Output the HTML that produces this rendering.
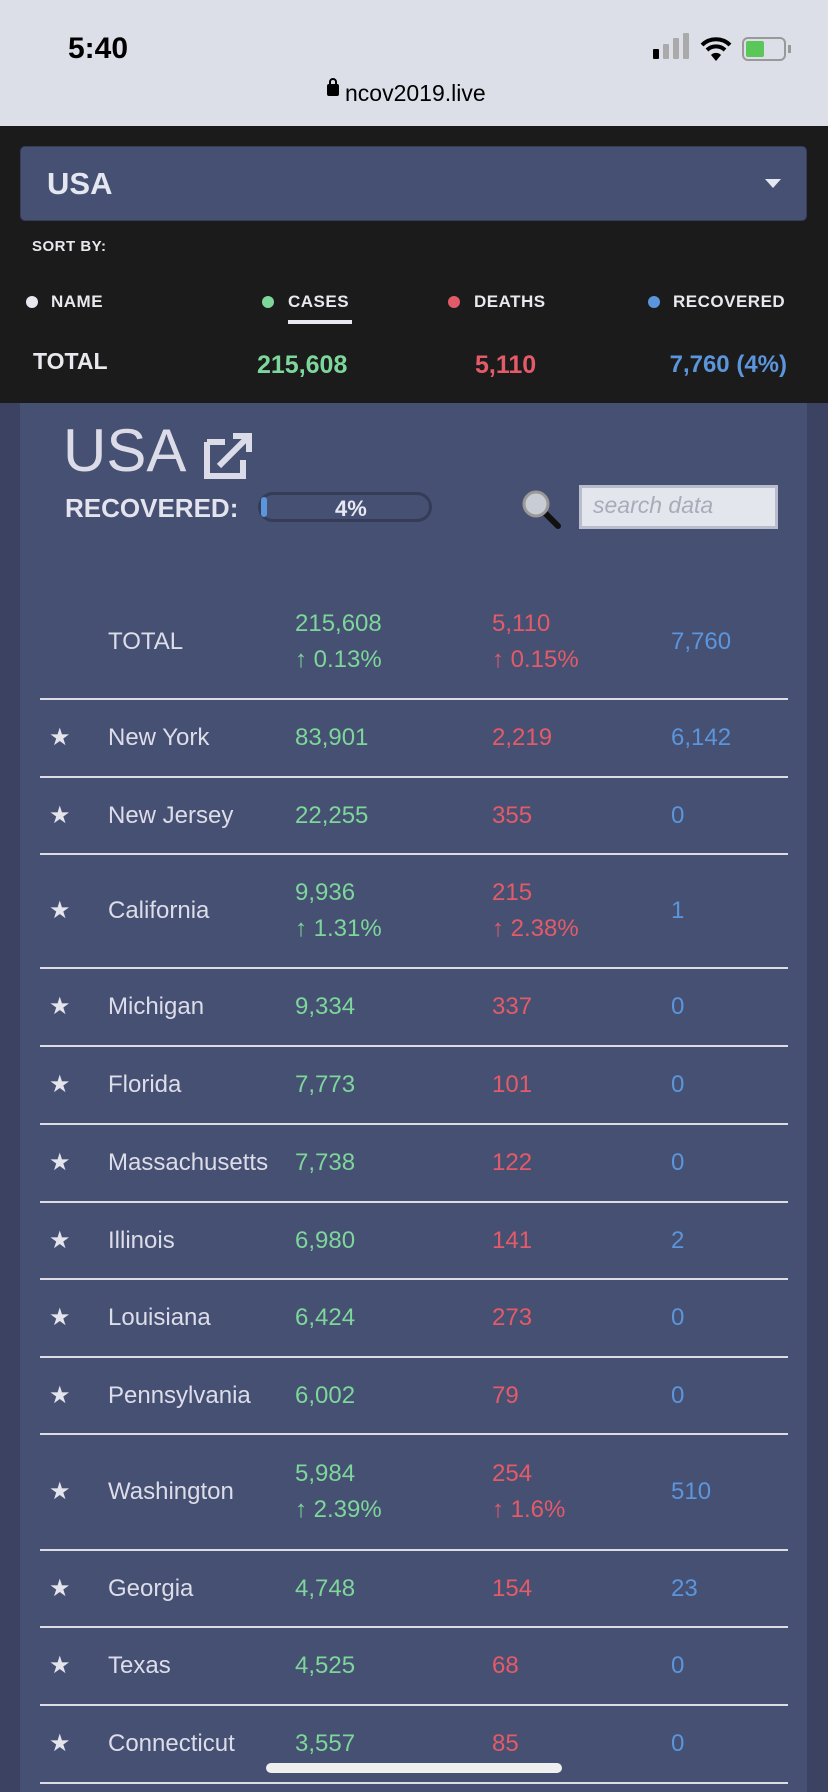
<!DOCTYPE html>
<html><head><meta charset="utf-8"><style>
*{margin:0;padding:0;box-sizing:border-box}
body{width:828px;height:1792px;overflow:hidden;background:#3b4262;font-family:"Liberation Sans",sans-serif;position:relative}
.a{position:absolute;white-space:nowrap}
.t{font-size:24px;line-height:26px;color:#dcdde8}
.g{color:#7dd69a}.r{color:#e35b68}.b{color:#5b95dc}
.ln{position:absolute;left:40px;width:748px;height:2px;background:#dcdde4}
.st{position:absolute;left:49px;font-size:24px;color:#e4e4ec;line-height:26px}
.dot{position:absolute;width:12px;height:12px;border-radius:50%}
.h{font-size:17px;font-weight:bold;color:#e8e8ee;letter-spacing:0.5px}
</style></head><body>
<div class="a" style="left:0;top:0;width:828px;height:126px;background:#dcdfe8"></div>
<div class="a" style="left:68px;top:32px;font-size:30px;font-weight:bold;color:#000">5:40</div>
<div class="a" style="left:653px;top:49px;width:6px;height:10px;background:#000;border-radius:1px"></div>
<div class="a" style="left:663px;top:44px;width:6px;height:15px;background:#aaa;border-radius:1px"></div>
<div class="a" style="left:673px;top:38px;width:6px;height:21px;background:#aaa;border-radius:1px"></div>
<div class="a" style="left:683px;top:33px;width:6px;height:26px;background:#aaa;border-radius:1px"></div>
<svg class="a" style="left:700px;top:36px" width="32" height="26" viewBox="0 0 32 26"><path d="M2 9 A20 20 0 0 1 30 9" stroke="#000" stroke-width="4" fill="none"/><path d="M7 14 A13 13 0 0 1 25 14" stroke="#000" stroke-width="4" fill="none"/><path d="M16 25 L11 19 A7 7 0 0 1 21 19 Z" fill="#000"/></svg>
<div class="a" style="left:742px;top:37px;width:44px;height:24px;border:2px solid #999;border-radius:6px"><div style="position:absolute;left:2px;top:2px;width:18px;height:16px;background:#5ac75a;border-radius:2px"></div></div>
<div class="a" style="left:788px;top:45px;width:3px;height:8px;background:#999"></div>
<div class="a" style="left:327px;top:84px;width:12px;height:12px;background:#000;border-radius:2px"></div>
<div class="a" style="left:329px;top:78px;width:8px;height:10px;border:2px solid #000;border-radius:4px 4px 0 0"></div>
<div class="a" style="left:345px;top:80px;font-size:23px;color:#000">ncov2019.live</div>

<div class="a" style="left:0;top:126px;width:828px;height:277px;background:#1b1b1b"></div>
<div class="a" style="left:20px;top:146px;width:787px;height:75px;background:#465073;border:1px solid #363d58;border-radius:5px"></div>
<div class="a" style="left:47px;top:166px;font-size:31px;font-weight:bold;color:#e4e6f0">USA</div>
<div class="a" style="left:765px;top:179px;width:0;height:0;border-left:8px solid transparent;border-right:8px solid transparent;border-top:9px solid #e4e6f0"></div>
<div class="a h" style="left:32px;top:238px;font-size:15px">SORT BY:</div>
<div class="dot" style="left:26px;top:296px;background:#e8e8f0"></div>
<div class="a h" style="left:51px;top:292px">NAME</div>
<div class="dot" style="left:262px;top:296px;background:#7dd69a"></div>
<div class="a h" style="left:288px;top:292px">CASES</div>
<div class="a" style="left:288px;top:320px;width:64px;height:4px;background:#e8e8ee"></div>
<div class="dot" style="left:448px;top:296px;background:#e35b68"></div>
<div class="a h" style="left:474px;top:292px">DEATHS</div>
<div class="dot" style="left:648px;top:296px;background:#5b95dc"></div>
<div class="a h" style="left:673px;top:292px">RECOVERED</div>
<div class="a" style="left:33px;top:348px;font-size:23px;font-weight:bold;color:#e8e8ee">TOTAL</div>
<div class="a g" style="left:257px;top:351px;font-size:25px;font-weight:bold">215,608</div>
<div class="a r" style="left:475px;top:351px;font-size:25px;font-weight:bold">5,110</div>
<div class="a b" style="right:41px;top:351px;font-size:24px;font-weight:bold">7,760 (4%)</div>

<div class="a" style="left:20px;top:403px;width:787px;height:1389px;background:#465073"></div>
<div class="a" style="left:63px;top:416px;font-size:60px;color:#dcdce8">USA</div>
<svg class="a" style="left:203px;top:430px" width="52" height="50" viewBox="0 0 52 50"><path d="M4 12 H22 M4 12 V46 H40 V30" stroke="#dcdce8" stroke-width="6" fill="none"/><path d="M16 36 L44 8 M30 6 H46 V22" stroke="#dcdce8" stroke-width="6" fill="none"/></svg>
<div class="a" style="left:65px;top:493px;font-size:26px;font-weight:bold;color:#e4e4ee">RECOVERED:</div>
<div class="a" style="left:258px;top:492px;width:174px;height:30px;border:3px solid #353c58;border-radius:15px;background:#465073"></div>
<div class="a" style="left:261px;top:497px;width:6px;height:20px;background:#5b95dc;border-radius:3px"></div>
<div class="a" style="left:335px;top:496px;font-size:22px;font-weight:bold;color:#e8e8f0">4%</div>
<svg class="a" style="left:520px;top:488px" width="44" height="44" viewBox="0 0 44 44"><line x1="24" y1="24" x2="38" y2="38" stroke="#111" stroke-width="6" stroke-linecap="round"/><circle cx="16" cy="16" r="12" fill="#c8ccd4" stroke="#999" stroke-width="3"/></svg>
<div class="a" style="left:579px;top:485px;width:199px;height:44px;border:3px solid #b8bccc;background:#e4e6ee"></div>
<div class="a" style="left:593px;top:492px;font-size:23px;font-style:italic;color:#a8acb8">search data</div>

<div class="a t" style="left:108px;top:629px">TOTAL</div>
<div class="a t g" style="left:295px;top:611px">215,608</div><div class="a t g" style="left:295px;top:647px">↑ 0.13%</div>
<div class="a t r" style="left:492px;top:611px">5,110</div><div class="a t r" style="left:492px;top:647px">↑ 0.15%</div>
<div class="a t b" style="left:671px;top:629px">7,760</div>
<div class="ln" style="top:698px"></div>

<div class="st" style="top:725px">★</div><div class="a t" style="left:108px;top:725px">New York</div><div class="a t g" style="left:295px;top:725px">83,901</div><div class="a t r" style="left:492px;top:725px">2,219</div><div class="a t b" style="left:671px;top:725px">6,142</div>
<div class="ln" style="top:776px"></div>
<div class="st" style="top:803px">★</div><div class="a t" style="left:108px;top:803px">New Jersey</div><div class="a t g" style="left:295px;top:803px">22,255</div><div class="a t r" style="left:492px;top:803px">355</div><div class="a t b" style="left:671px;top:803px">0</div>
<div class="ln" style="top:853px"></div>
<div class="st" style="top:898px">★</div><div class="a t" style="left:108px;top:898px">California</div><div class="a t g" style="left:295px;top:880px">9,936</div><div class="a t g" style="left:295px;top:916px">↑ 1.31%</div><div class="a t r" style="left:492px;top:880px">215</div><div class="a t r" style="left:492px;top:916px">↑ 2.38%</div><div class="a t b" style="left:671px;top:898px">1</div>
<div class="ln" style="top:967px"></div>
<div class="st" style="top:994px">★</div><div class="a t" style="left:108px;top:994px">Michigan</div><div class="a t g" style="left:295px;top:994px">9,334</div><div class="a t r" style="left:492px;top:994px">337</div><div class="a t b" style="left:671px;top:994px">0</div>
<div class="ln" style="top:1045px"></div>
<div class="st" style="top:1072px">★</div><div class="a t" style="left:108px;top:1072px">Florida</div><div class="a t g" style="left:295px;top:1072px">7,773</div><div class="a t r" style="left:492px;top:1072px">101</div><div class="a t b" style="left:671px;top:1072px">0</div>
<div class="ln" style="top:1123px"></div>
<div class="st" style="top:1150px">★</div><div class="a t" style="left:108px;top:1150px">Massachusetts</div><div class="a t g" style="left:295px;top:1150px">7,738</div><div class="a t r" style="left:492px;top:1150px">122</div><div class="a t b" style="left:671px;top:1150px">0</div>
<div class="ln" style="top:1201px"></div>
<div class="st" style="top:1228px">★</div><div class="a t" style="left:108px;top:1228px">Illinois</div><div class="a t g" style="left:295px;top:1228px">6,980</div><div class="a t r" style="left:492px;top:1228px">141</div><div class="a t b" style="left:671px;top:1228px">2</div>
<div class="ln" style="top:1278px"></div>
<div class="st" style="top:1305px">★</div><div class="a t" style="left:108px;top:1305px">Louisiana</div><div class="a t g" style="left:295px;top:1305px">6,424</div><div class="a t r" style="left:492px;top:1305px">273</div><div class="a t b" style="left:671px;top:1305px">0</div>
<div class="ln" style="top:1356px"></div>
<div class="st" style="top:1383px">★</div><div class="a t" style="left:108px;top:1383px">Pennsylvania</div><div class="a t g" style="left:295px;top:1383px">6,002</div><div class="a t r" style="left:492px;top:1383px">79</div><div class="a t b" style="left:671px;top:1383px">0</div>
<div class="ln" style="top:1433px"></div>
<div class="st" style="top:1479px">★</div><div class="a t" style="left:108px;top:1479px">Washington</div><div class="a t g" style="left:295px;top:1461px">5,984</div><div class="a t g" style="left:295px;top:1497px">↑ 2.39%</div><div class="a t r" style="left:492px;top:1461px">254</div><div class="a t r" style="left:492px;top:1497px">↑ 1.6%</div><div class="a t b" style="left:671px;top:1479px">510</div>
<div class="ln" style="top:1549px"></div>
<div class="st" style="top:1576px">★</div><div class="a t" style="left:108px;top:1576px">Georgia</div><div class="a t g" style="left:295px;top:1576px">4,748</div><div class="a t r" style="left:492px;top:1576px">154</div><div class="a t b" style="left:671px;top:1576px">23</div>
<div class="ln" style="top:1626px"></div>
<div class="st" style="top:1653px">★</div><div class="a t" style="left:108px;top:1653px">Texas</div><div class="a t g" style="left:295px;top:1653px">4,525</div><div class="a t r" style="left:492px;top:1653px">68</div><div class="a t b" style="left:671px;top:1653px">0</div>
<div class="ln" style="top:1704px"></div>
<div class="st" style="top:1731px">★</div><div class="a t" style="left:108px;top:1731px">Connecticut</div><div class="a t g" style="left:295px;top:1731px">3,557</div><div class="a t r" style="left:492px;top:1731px">85</div><div class="a t b" style="left:671px;top:1731px">0</div>
<div class="ln" style="top:1782px"></div>
<div class="a" style="left:266px;top:1763px;width:296px;height:10px;background:#efefef;border-radius:5px"></div>
</body></html>
